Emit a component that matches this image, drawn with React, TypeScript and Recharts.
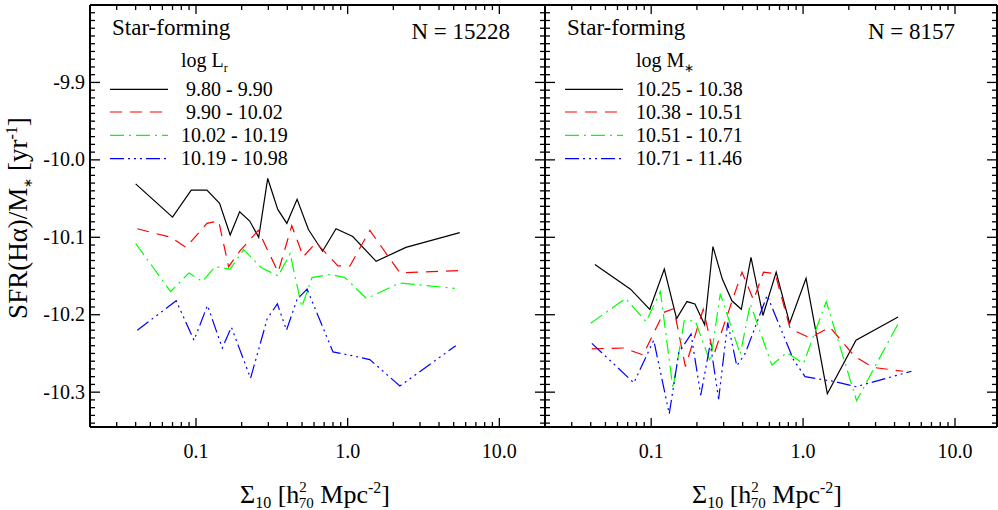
import React from "react"
import { LineChart, Line, XAxis, YAxis } from "recharts"

const FONT = "'Liberation Serif', 'Times New Roman', serif"

// ---- left panel: bins of log L_r ----
const lumLabels = [" 9.80 - 9.90", " 9.90 - 10.02", "10.02 - 10.19", "10.19 - 10.98"]
const lumX1 = [0.04, 0.07, 0.093, 0.118, 0.143, 0.168, 0.194, 0.226, 0.259, 0.297, 0.346, 0.397, 0.464, 0.551, 0.683, 0.838, 1.08, 1.54, 2.42, 5.48]
const lumY1 = [-10.031, -10.074, -10.039, -10.039, -10.056, -10.097, -10.067, -10.079, -10.1, -10.024, -10.064, -10.082, -10.051, -10.09, -10.118, -10.089, -10.099, -10.131, -10.113, -10.094]
const lumX2 = [0.041, 0.068, 0.086, 0.118, 0.141, 0.164, 0.196, 0.257, 0.348, 0.428, 0.51, 0.619, 0.863, 1.035, 1.4, 2.21, 5.48]
const lumY2 = [-10.089, -10.1, -10.113, -10.082, -10.079, -10.138, -10.117, -10.091, -10.145, -10.085, -10.125, -10.107, -10.137, -10.137, -10.091, -10.146, -10.143]
const lumX3 = [0.04, 0.068, 0.09, 0.11, 0.134, 0.168, 0.206, 0.269, 0.348, 0.417, 0.498, 0.582, 0.765, 0.96, 1.33, 2.21, 5.08]
const lumY3 = [-10.108, -10.17, -10.146, -10.157, -10.138, -10.141, -10.116, -10.139, -10.15, -10.121, -10.19, -10.152, -10.148, -10.152, -10.179, -10.159, -10.166]
const lumX4 = [0.041, 0.074, 0.097, 0.119, 0.149, 0.171, 0.229, 0.295, 0.344, 0.395, 0.464, 0.54, 0.8, 1.08, 1.4, 2.21, 5.16]
const lumY4 = [-10.22, -10.182, -10.233, -10.188, -10.243, -10.216, -10.282, -10.205, -10.186, -10.22, -10.18, -10.167, -10.248, -10.253, -10.258, -10.292, -10.24]

// ---- right panel: bins of log M* ----
const massLabels = ["10.25 - 10.38", "10.38 - 10.51", "10.51 - 10.71", "10.71 - 11.46"]
const massX1 = [0.0426, 0.0731, 0.0979, 0.122, 0.147, 0.172, 0.194, 0.225, 0.255, 0.294, 0.34, 0.392, 0.454, 0.544, 0.665, 0.815, 1.046, 1.444, 2.23, 4.22]
const massY1 = [-10.135, -10.167, -10.193, -10.141, -10.205, -10.183, -10.186, -10.213, -10.112, -10.154, -10.182, -10.193, -10.126, -10.201, -10.145, -10.211, -10.153, -10.302, -10.233, -10.203]
const massX2 = [0.0406, 0.0658, 0.0884, 0.121, 0.141, 0.168, 0.22, 0.258, 0.396, 0.472, 0.549, 0.655, 0.822, 1.11, 1.5, 2.19, 2.89, 4.56]
const massY2 = [-10.244, -10.243, -10.252, -10.197, -10.192, -10.267, -10.193, -10.252, -10.145, -10.181, -10.145, -10.147, -10.218, -10.23, -10.216, -10.254, -10.268, -10.273]
const massX3 = [0.04, 0.0678, 0.0925, 0.115, 0.139, 0.165, 0.195, 0.245, 0.285, 0.386, 0.449, 0.623, 0.782, 1.005, 1.42, 2.25, 4.29]
const massY3 = [-10.211, -10.179, -10.209, -10.17, -10.295, -10.208, -10.208, -10.261, -10.173, -10.251, -10.186, -10.265, -10.249, -10.263, -10.183, -10.311, -10.209]
const massX4 = [0.0407, 0.0769, 0.104, 0.1315, 0.152, 0.183, 0.212, 0.245, 0.278, 0.319, 0.366, 0.416, 0.58, 0.864, 1.03, 1.58, 2.23, 5.17]
const massY4 = [-10.237, -10.288, -10.233, -10.328, -10.249, -10.225, -10.304, -10.237, -10.309, -10.21, -10.266, -10.25, -10.175, -10.258, -10.28, -10.286, -10.293, -10.273]

// axis ticks
const xMajor = [0.1, 1, 10]
const xMajorLabels = ["0.1", "1.0", "10.0"]
const xMinor = [0.02, 0.03, 0.04, 0.05, 0.06, 0.07, 0.08, 0.09, 0.2, 0.3, 0.4, 0.5, 0.6, 0.7, 0.8, 0.9, 2, 3, 4, 5, 6, 7, 8, 9]
const yMajorLabels = ["-9.9", "-10.0", "-10.1", "-10.2", "-10.3"]
const yTicks = Array.from({ length: 54 }, (_, i) => (-981 - i) / 100)
const xTicks = [...xMinor, ...xMajor].sort((a, b) => a - b)

const colors = ["#000000", "#ff0000", "#00ff00", "#0000ff"]
const dashes = [undefined, "12 8", "14 5 2 5", "14 4 2 4 2 4 2 4"]

const toPoints = (xs: number[], ys: number[]) => xs.map((x, i) => ({ x, y: ys[i] }))

const lumSeries = [toPoints(lumX1, lumY1), toPoints(lumX2, lumY2), toPoints(lumX3, lumY3), toPoints(lumX4, lumY4)]
const massSeries = [toPoints(massX1, massY1), toPoints(massX2, massY2), toPoints(massX3, massY3), toPoints(massX4, massY4)]

const isMajorY = (v: number) => Math.round(v * 100) % 10 === 0

function BottomTick({ x, y, payload }: any) {
  const i = xMajor.indexOf(payload.value)
  return (
    <g>
      <line x1={x} x2={x} y1={y} y2={y - (i >= 0 ? 9 : 5)} stroke="#000" strokeWidth={1.3} />
      {i >= 0 && (
        <text x={x} y={y + 31} textAnchor="middle" fontFamily={FONT} fontSize={20} fill="#000">
          {xMajorLabels[i]}
        </text>
      )}
    </g>
  )
}

function TopTick({ x, y, payload }: any) {
  const major = xMajor.includes(payload.value)
  return <line x1={x} x2={x} y1={y} y2={y + (major ? 9 : 5)} stroke="#000" strokeWidth={1.3} />
}

function LeftTick({ x, y, payload, showLabel }: any) {
  const major = isMajorY(payload.value)
  const idx = Math.round((-9.9 - payload.value) * 10)
  return (
    <g>
      <line x1={x} x2={x + (major ? 10 : 5)} y1={y} y2={y} stroke="#000" strokeWidth={1.3} />
      {showLabel && major && (
        <text x={x - 5} y={y + 6.5} textAnchor="end" fontFamily={FONT} fontSize={20} fill="#000">
          {yMajorLabels[idx]}
        </text>
      )}
    </g>
  )
}

function RightTick({ x, y, payload }: any) {
  const major = isMajorY(payload.value)
  return <line x1={x} x2={x - (major ? 10 : 5)} y1={y} y2={y} stroke="#000" strokeWidth={1.3} />
}

const axisLine = { stroke: "#000", strokeWidth: 2 }

function Panel({ width, leftW, rightW, xMax, series, showYLabels }: any) {
  const ticks = xTicks.filter((t) => t < xMax)
  return (
    <LineChart width={width} height={510} margin={{ top: 0, right: 0, bottom: 0, left: 0 }}>
      <XAxis xAxisId="b" type="number" dataKey="x" scale="log" domain={[0.02, xMax]} allowDataOverflow
        ticks={ticks} interval={0} height={83} tickSize={0} tickMargin={0} tickLine={false}
        axisLine={axisLine} tick={(p: any) => <BottomTick {...p} />} />
      <XAxis xAxisId="t" orientation="top" type="number" dataKey="x" scale="log" domain={[0.02, xMax]} allowDataOverflow
        ticks={ticks} interval={0} height={5} tickSize={0} tickMargin={0} tickLine={false}
        axisLine={axisLine} tick={(p: any) => <TopTick {...p} />} />
      <YAxis yAxisId="l" type="number" domain={[-10.345, -9.8]} allowDataOverflow ticks={yTicks} interval={0}
        width={leftW} tickSize={0} tickMargin={0} tickLine={false} axisLine={axisLine}
        tick={(p: any) => <LeftTick {...p} showLabel={showYLabels} />} />
      <YAxis yAxisId="r" orientation="right" type="number" domain={[-10.345, -9.8]} allowDataOverflow ticks={yTicks} interval={0}
        width={rightW} tickSize={0} tickMargin={0} tickLine={false} axisLine={axisLine}
        tick={(p: any) => <RightTick {...p} />} />
      {series.map((d: any[], i: number) => (
        <Line key={i} xAxisId="b" yAxisId="l" data={d} dataKey="y" type="linear" dot={false} activeDot={false}
          stroke={colors[i]} strokeWidth={1.2} strokeDasharray={dashes[i]} isAnimationActive={false} />
      ))}
    </LineChart>
  )
}

function Legend({ x0, textX, title, sub, labels }: any) {
  const rows = [89.3, 112, 135.3, 158.7]
  return (
    <g fontFamily={FONT} fill="#000">
      <text x={textX} y={67} fontSize={20}>
        {title}
        <tspan dy={5} fontSize={12}>{sub}</tspan>
      </text>
      {labels.map((lab: string, i: number) => (
        <g key={i}>
          <line x1={x0} x2={x0 + 58} y1={rows[i]} y2={rows[i]} stroke={colors[i]} strokeWidth={1.2} strokeDasharray={dashes[i]} />
          <text x={textX} y={rows[i] + 6.5} fontSize={20} style={{ whiteSpace: "pre" }}>{lab}</text>
        </g>
      ))}
    </g>
  )
}

function XTitle({ cx }: { cx: number }) {
  return (
    <text x={cx} y={503} textAnchor="middle" fontFamily={FONT} fontSize={26} fill="#000">
      Σ<tspan dy={5} fontSize={16}>10</tspan>
      <tspan dy={-5}> [h</tspan>
      <tspan dy={-11} fontSize={15}>2</tspan>
      <tspan dx={-8} dy={16} fontSize={15}>70</tspan>
      <tspan dy={-5}> Mpc</tspan>
      <tspan dy={-10} fontSize={16}>-2</tspan>
      <tspan dy={10}>]</tspan>
    </text>
  )
}

export default function App() {
  return (
    <div style={{ position: "absolute", left: 0, top: 0, width: 998, height: 510, background: "#fff" }}>
      <div style={{ position: "absolute", left: 0, top: 0 }}>
        <Panel width={560} leftW={90} rightW={15} xMax={20} series={lumSeries} showYLabels />
      </div>
      <div style={{ position: "absolute", left: 0, top: 0 }}>
        <Panel width={998} leftW={545} rightW={1} xMax={18.9} series={massSeries} showYLabels={false} />
      </div>
      <svg width={998} height={510} style={{ position: "absolute", left: 0, top: 0, pointerEvents: "none" }}>
        <text x={112} y={35} fontFamily={FONT} fontSize={23} fill="#000">Star-forming</text>
        <text x={510} y={39} textAnchor="end" fontFamily={FONT} fontSize={23} fill="#000">N = 15228</text>
        <text x={567} y={35} fontFamily={FONT} fontSize={23} fill="#000">Star-forming</text>
        <text x={955} y={39} textAnchor="end" fontFamily={FONT} fontSize={23} fill="#000">N = 8157</text>
        <Legend x0={110} textX={181} title="log L" sub="r" labels={lumLabels} />
        <Legend x0={565} textX={636} title="log M" sub="∗" labels={massLabels} />
        <XTitle cx={315} />
        <XTitle cx={767} />
        <text x={27} y={218} transform="rotate(-90 27 218)" textAnchor="middle" fontFamily={FONT} fontSize={27} fill="#000">
          SFR(Hα)/M<tspan dy={5} fontSize={12}>∗</tspan>
          <tspan dy={-5}> [yr</tspan>
          <tspan dy={-10} fontSize={16}>-1</tspan>
          <tspan dy={10}>]</tspan>
        </text>
      </svg>
    </div>
  )
}
